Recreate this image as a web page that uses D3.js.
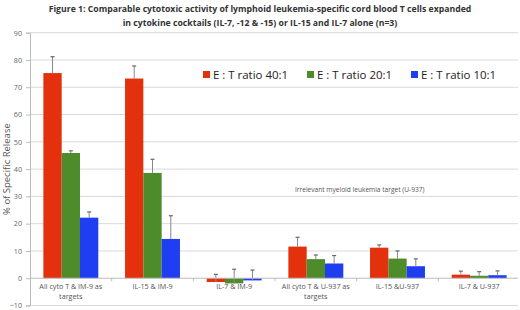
<!DOCTYPE html>
<meta charset="utf-8">
<html>
<head>
<script src="https://d3js.org/d3.v7.min.js"></script>
<style>
  body { margin: 0; background: #fff; }
  svg { font-family: "Open Sans", sans-serif; }
</style>
</head>
<body>
<div id="chart"></div>
<script>
    // data
    const categories = [
        ["All cyto T & IM-9 as", "targets"],
        ["IL-15 & IM-9"],
        ["IL-7 & IM-9"],
        ["All cyto T  & U-937 as", "targets"],
        ["IL-15 &U-937"],
        ["IL-7 & U-937"]
    ];
    const seriesNames = ["E : T ratio 40:1", "E : T ratio 20:1", "E : T ratio 10:1"];
    const ratio40 = [75.2, 73.2, -1.4, 11.6, 11.2, 1.3];
    const ratio20 = [45.9, 38.6, -1.9, 7.0, 7.2, 0.9];
    const ratio10 = [22.2, 14.4, -0.8, 5.4, 4.4, 1.1];
    const err40 = [6.0, 4.6, 2.8, 3.4, 1.0, 1.3];
    const err20 = [0.8, 5.0, 5.2, 1.5, 2.8, 1.5];
    const err10 = [2.1, 8.5, 3.8, 2.9, 2.7, 1.6];
    const yTicks = [-10, 0, 10, 20, 30, 40, 50, 60, 70, 80, 90];
    const colors = ["#e3310e", "#4e8b2a", "#1f3ef2"];

    const W = 520, H = 310;
    const margin = { top: 32.7, right: 0, bottom: 5, left: 30 };

    const svg = d3.select("#chart").append("svg")
        .attr("width", W).attr("height", H);

    // title
    const title = svg.append("text")
        .attr("x", 260).attr("y", 12)
        .attr("text-anchor", "middle")
        .style("font-size", "8.7px").style("font-weight", "bold").attr("fill", "#333");
    title.append("tspan").attr("x", 260).attr("dy", 0)
        .text("Figure 1: Comparable cytotoxic activity of lymphoid leukemia-specific cord blood T cells expanded");
    title.append("tspan").attr("x", 260).attr("dy", 14)
        .text("in cytokine cocktails (IL-7, -12 & -15) or IL-15 and IL-7 alone (n=3)");

    const x0 = d3.scaleBand()
        .domain(d3.range(categories.length))
        .range([margin.left, W - margin.right]);
    const x1 = d3.scaleBand()
        .domain(d3.range(3))
        .range([0, x0.bandwidth()])
        .paddingOuter(0.73).paddingInner(0);
    const y = d3.scaleLinear()
        .domain([-10, 90])
        .range([305.5, margin.top]);

    // grid lines
    svg.append("g").selectAll("line")
        .data(yTicks.filter(d => d !== 0))
        .join("line")
        .attr("x1", margin.left).attr("x2", 518)
        .attr("y1", d => y(d)).attr("y2", d => y(d))
        .attr("stroke", "#d9d9d9").attr("stroke-width", 1);

    // y axis
    const yAxis = svg.append("g")
        .attr("transform", `translate(${margin.left},0)`)
        .call(d3.axisLeft(y).tickValues(yTicks).tickSize(4).tickPadding(4));
    yAxis.select(".domain").attr("stroke", "#bbb");
    yAxis.selectAll(".tick line").attr("stroke", "#bbb");
    yAxis.selectAll(".tick text").attr("fill", "#666").style("font-size", "7.2px")
        .style("font-family", "Open Sans, sans-serif");

    svg.append("text")
        .attr("transform", `translate(10,${y(40)}) rotate(-90)`)
        .attr("text-anchor", "middle")
        .style("font-size", "9.5px").attr("fill", "#555")
        .text("% of Specific Release");

    // bars
    const series = [ratio40, ratio20, ratio10];
    const errs = [err40, err20, err10];
    const rows = [];
    categories.forEach((c, i) => {
        series.forEach((s, j) => rows.push({ cat: i, ser: j, value: s[i], err: errs[j][i] }));
    });

    svg.append("g").selectAll("rect")
        .data(rows)
        .join("rect")
        .attr("x", d => x0(d.cat) + x1(d.ser))
        .attr("width", x1.bandwidth())
        .attr("y", d => y(Math.max(0, d.value)))
        .attr("height", d => Math.abs(y(d.value) - y(0)))
        .attr("fill", d => colors[d.ser]);

    // error bars (upward only)
    const eb = svg.append("g").selectAll("g")
        .data(rows)
        .join("g");
    eb.append("line")
        .attr("x1", d => x0(d.cat) + x1(d.ser) + x1.bandwidth() / 2)
        .attr("x2", d => x0(d.cat) + x1(d.ser) + x1.bandwidth() / 2)
        .attr("y1", d => y(d.value))
        .attr("y2", d => y(d.value + d.err))
        .attr("stroke", "#888").attr("stroke-width", 1);
    eb.append("line")
        .attr("x1", d => x0(d.cat) + x1(d.ser) + x1.bandwidth() / 2 - 2)
        .attr("x2", d => x0(d.cat) + x1(d.ser) + x1.bandwidth() / 2 + 2)
        .attr("y1", d => y(d.value + d.err))
        .attr("y2", d => y(d.value + d.err))
        .attr("stroke", "#666").attr("stroke-width", 1.2);

    // x axis at zero
    svg.append("line")
        .attr("x1", margin.left).attr("x2", 518)
        .attr("y1", y(0)).attr("y2", y(0))
        .attr("stroke", "#bbb");
    svg.append("g").selectAll("line")
        .data(d3.range(1, categories.length))
        .join("line")
        .attr("x1", d => x0(d)).attr("x2", d => x0(d))
        .attr("y1", y(0)).attr("y2", y(0) + 3)
        .attr("stroke", "#bbb");

    // category labels
    const cl = svg.append("g").selectAll("text")
        .data(categories)
        .join("text")
        .attr("text-anchor", "middle")
        .attr("y", y(0) + 10.5)
        .style("font-size", "7.2px").attr("fill", "#555");
    cl.each(function (lines, i) {
        lines.forEach((t, k) => {
            d3.select(this).append("tspan")
                .attr("x", x0(i) + x0.bandwidth() / 2)
                .attr("dy", k === 0 ? 0 : 10)
                .text(t);
        });
    });

    // legend
    const legX = [203, 307, 411];
    const lg = svg.append("g").selectAll("g")
        .data(seriesNames)
        .join("g")
        .attr("transform", (d, i) => `translate(${legX[i]},71)`);
    lg.append("rect").attr("width", 7).attr("height", 7).attr("fill", (d, i) => colors[i]);
    lg.append("text").attr("x", 10).attr("y", 7.5)
        .style("font-size", "11.5px").attr("fill", "#222")
        .attr("textLength", 75).attr("lengthAdjust", "spacingAndGlyphs")
        .text(d => d);

    // annotation
    svg.append("text")
        .attr("x", 295).attr("y", 192)
        .style("font-size", "6.6px").attr("fill", "#555")
        .text("Irrelevant myeloid leukemia target (U-937)");
</script>
</body>
</html>
